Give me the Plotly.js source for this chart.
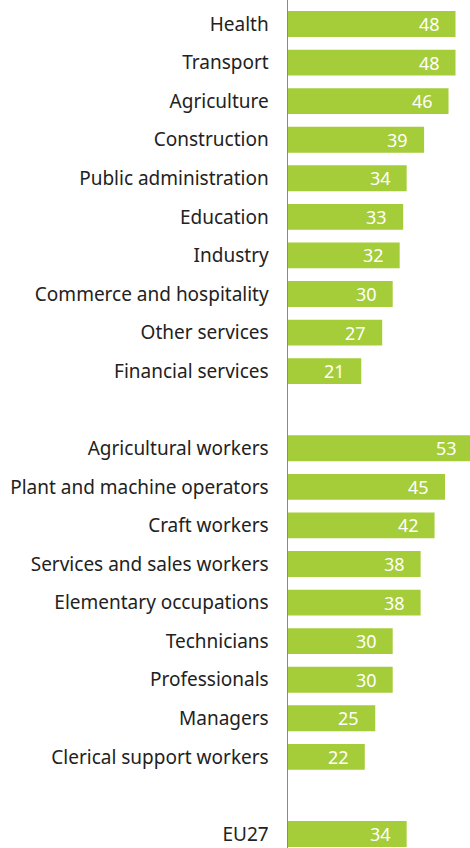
<!DOCTYPE html>
<html><head><meta charset="utf-8">
<script src="https://cdn.plot.ly/plotly-3.0.1.min.js"></script>
<style>html,body{margin:0;padding:0;overflow:hidden;background:#fff}</style>
</head><body><div id="chart"></div>
<script>
const categories = ["Health","Transport","Agriculture","Construction","Public administration","Education","Industry","Commerce and hospitality","Other services","Financial services","","Agricultural workers","Plant and machine operators","Craft workers","Services and sales workers","Elementary occupations","Technicians","Professionals","Managers","Clerical support workers","","EU27"];
const values = [48,48,46,39,34,33,32,30,27,21,null,53,45,42,38,38,30,30,25,22,null,34];

const pos = categories.map((c,i)=>i);
const keep = values.map((v,i)=>v!==null);
const ys = pos.filter((p,i)=>keep[i]);
const xs = values.filter(v=>v!==null);

const trace = {
  type:'bar', orientation:'h', x:xs, y:ys, width:0.67,
  marker:{color:'#a5cd39'}, hoverinfo:'none'
};
const annotations = xs.map((v,i)=>({
  x:v, y:ys[i], xref:'x', yref:'y', text:String(v), showarrow:false,
  xanchor:'right', xshift:-14, font:{family:'Noto Sans', size:18, color:'#fff'}
}));
const layout = {
  width:474, height:848,
  margin:{l:288, r:0, t:0, b:0},
  paper_bgcolor:'#fff', plot_bgcolor:'#fff',
  showlegend:false,
  xaxis:{range:[0,53.3], visible:false, fixedrange:true},
  yaxis:{range:[21.363,-0.622], tickvals:pos, ticktext:categories,
    showgrid:false, zeroline:false, showline:true, linecolor:'#8a8a8a', linewidth:1.5,
    ticks:'outside', ticklen:14, tickcolor:'rgba(0,0,0,0)',
    tickfont:{family:'Noto Sans', size:19, color:'#222'}},
  annotations:annotations
};
Plotly.newPlot('chart',[trace],layout,{displayModeBar:false, staticPlot:true});
</script></body></html>
